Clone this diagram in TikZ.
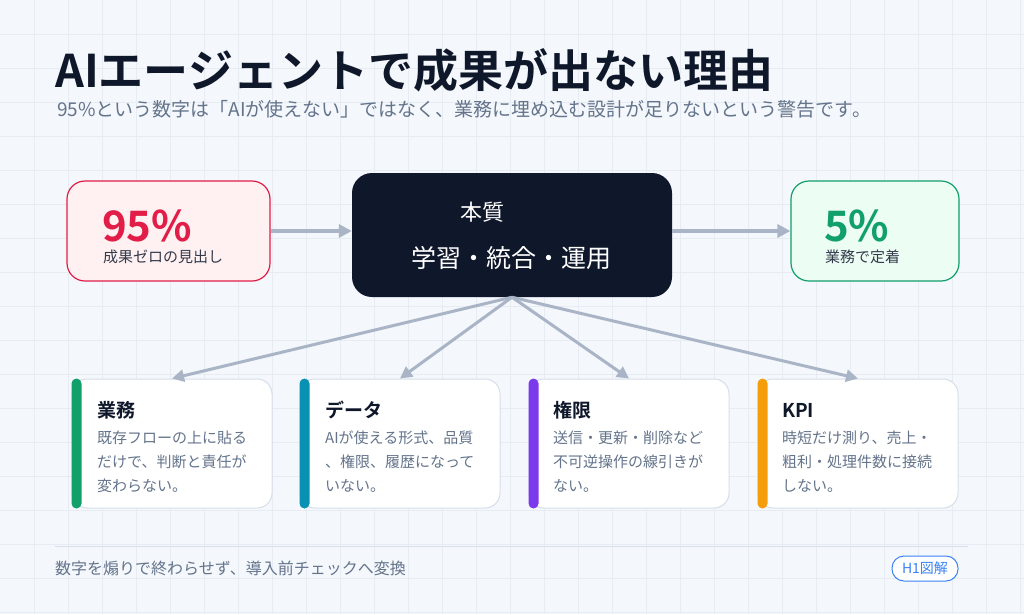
\documentclass[tikz,border=0pt]{standalone}
\usepackage{fontspec}
\setmainfont{Noto Sans CJK JP}[BoldFont={Noto Sans CJK JP Bold}]
\usepackage{tikz}
\usetikzlibrary{positioning, calc, arrows.meta}
\usepackage{xcolor}
\definecolor{PaperBlue}{HTML}{F4F7FB}
\definecolor{GridMist}{HTML}{E7ECF3}
\definecolor{InkNavy}{HTML}{0F172A}
\definecolor{SlateText}{HTML}{64748B}
\definecolor{ArrowGray}{HTML}{A9B5C6}
\definecolor{CardLine}{HTML}{D6DEEA}
\definecolor{RoseRed}{HTML}{E11D48}
\definecolor{RoseFill}{HTML}{FFF1F2}
\definecolor{MintGreen}{HTML}{119F6A}
\definecolor{MintFill}{HTML}{ECFDF4}
\definecolor{BarTeal}{HTML}{0891B2}
\definecolor{BarViolet}{HTML}{7C3AED}
\definecolor{BarAmber}{HTML}{F59E0B}
\definecolor{BadgeBlue}{HTML}{3B82F6}

\tikzset{
  statbox/.style={draw, line width=1.2pt, rounded corners=18pt, minimum width=203pt, minimum height=100pt},
  corebox/.style={fill=InkNavy, rounded corners=20pt, minimum width=320pt, minimum height=124pt},
  cardbox/.style={draw=CardLine, fill=white, line width=1pt, rounded corners=15pt, minimum width=200pt, minimum height=129pt},
  cardhead/.style={anchor=west, inner sep=0pt, text=InkNavy, font=\fontsize{19}{22}\selectfont\bfseries},
  cardbody/.style={anchor=north west, align=left, inner sep=0pt, text=SlateText, font=\fontsize{15}{24}\selectfont},
  flow/.style={ArrowGray, line width=4pt, -{Triangle[length=13pt, width=13pt]}},
  fan/.style={ArrowGray, line width=3pt, -{Triangle[length=12pt, width=12pt]}},
}

\begin{document}
\begin{tikzpicture}[x=1pt, y=-1pt]
  \useasboundingbox (0,0) rectangle (1024,614);
  \fill[PaperBlue] (0,0) rectangle (1024,614);
  \foreach \gx in {34,68,...,1020}
    \draw[GridMist, line width=0.8pt] (\gx,0) -- (\gx,614);
  \foreach \gy in {34,68,...,612}
    \draw[GridMist, line width=0.8pt] (0,\gy) -- (1024,\gy);

  % heading
  \node[anchor=west, inner sep=0pt, text=InkNavy, font=\fontsize{45}{48}\selectfont\bfseries] (title) at (55,70) {AIエージェントで成果が出ない理由};
  \node[anchor=west, inner sep=0pt, text=SlateText, font=\fontsize{19}{22}\selectfont] (lead) at (57,109) {95\%という数字は「AIが使えない」ではなく、業務に埋め込む設計が足りないという警告です。};

  % top row
  \node[statbox, draw=RoseRed, fill=RoseFill] (zero) at (168.5,231) {};
  \node[anchor=west, inner sep=0pt, text=RoseRed, font=\fontsize{42}{48}\selectfont\bfseries] (zeronum) at (102,226) {95\%};
  \node[anchor=west, inner sep=0pt, text=InkNavy!85, font=\fontsize{15}{18}\selectfont] (zerolbl) at (103,257) {成果ゼロの見出し};

  \node[corebox] (core) at (512,235) {};
  \node[inner sep=0pt, text=white, font=\fontsize{22}{26}\selectfont] (corehead) at (482,212) {本質};
  \node[inner sep=0pt, text=white, font=\fontsize{25}{28}\selectfont] (coremain) at (511,258) {学習・統合・運用};

  \node[statbox, draw=MintGreen, fill=MintFill, minimum width=168pt] (win) at (875,231) {};
  \node[anchor=west, inner sep=0pt, text=MintGreen, font=\fontsize{42}{48}\selectfont\bfseries] (winnum) at (824,226) {5\%};
  \node[anchor=west, inner sep=0pt, text=InkNavy!85, font=\fontsize{15}{18}\selectfont] (winlbl) at (825,257) {業務で定着};

  \draw[flow] (zero.east) -- (zero.east -| core.west);
  \draw[flow] (win.west -| core.east) -- (win.west);

  % cards
  \node[cardbox] (gyomu) at (172,443.5) {};
  \node[cardbox] (data) at (400,443.5) {};
  \node[cardbox] (kengen) at (629,443.5) {};
  \node[cardbox] (kpi) at (858,443.5) {};

  \fill[MintGreen, rounded corners=5pt] (gyomu.north west) rectangle ($(gyomu.south west)+(10,0)$);
  \fill[BarTeal, rounded corners=5pt] (data.north west) rectangle ($(data.south west)+(10,0)$);
  \fill[BarViolet, rounded corners=5pt] (kengen.north west) rectangle ($(kengen.south west)+(10,0)$);
  \fill[BarAmber, rounded corners=5pt] (kpi.north west) rectangle ($(kpi.south west)+(10,0)$);

  \node[cardhead] (gyomuhead) at (97,410) {業務};
  \node[cardbody] (gyomubody) at (97,431) {既存フローの上に貼る\\だけで、判断と責任が\\変わらない。};
  \node[cardhead] (datahead) at (325,410) {データ};
  \node[cardbody] (databody) at (325,431) {AIが使える形式、品質\\、権限、履歴になって\\いない。};
  \node[cardhead] (kengenhead) at (553,410) {権限};
  \node[cardbody] (kengenbody) at (553,431) {送信・更新・削除など\\不可逆操作の線引きが\\ない。};
  \node[cardhead] (kpihead) at (782,410) {KPI};
  \node[cardbody] (kpibody) at (782,431) {時短だけ測り、売上・\\粗利・処理件数に接続\\しない。};

  \foreach \card in {gyomu, data, kengen, kpi}
    \draw[fan] (core.south) -- (\card.north);

  % footer
  \draw[CardLine, line width=1pt] (55,546) -- (968,546);
  \node[anchor=west, inner sep=0pt, text=SlateText, font=\fontsize{16}{18}\selectfont] (note) at (55,568) {数字を煽りで終わらせず、導入前チェックへ変換};
  \node[draw=BadgeBlue, fill=white, text=BadgeBlue, line width=1pt, rounded corners=12pt, minimum width=66pt, minimum height=25pt, inner sep=0pt, font=\fontsize{14}{16}\selectfont] (badge) at (925,568.5) {H1図解};
\end{tikzpicture}
\end{document}
